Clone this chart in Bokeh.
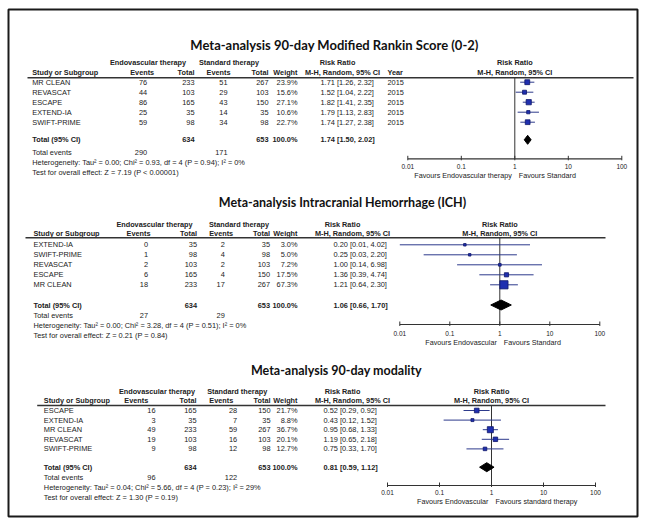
from bokeh.plotting import figure
from bokeh.models import Range1d, LogScale
from bokeh.core.properties import value
from bokeh.embed import file_html
from bokeh.resources import INLINE

# ---------------- DATA ----------------
TICKS = [0.01, 0.1, 1, 10, 100]
TICK_LABELS = ["0.01", "0.1", "1", "10", "100"]

P1_TITLE = "Meta-analysis 90-day Modified Rankin Score (0-2)"
P1_STUDIES = ["MR CLEAN", "REVASCAT", "ESCAPE", "EXTEND-IA", "SWIFT-PRIME"]
P1_E_EVENTS = [76, 44, 86, 25, 59]
P1_E_TOTAL = [233, 103, 165, 35, 98]
P1_S_EVENTS = [51, 29, 43, 14, 34]
P1_S_TOTAL = [267, 103, 150, 35, 98]
P1_WEIGHT = [23.9, 15.6, 27.1, 10.6, 22.7]
P1_RR = [1.71, 1.52, 1.82, 1.79, 1.74]
P1_LO = [1.26, 1.04, 1.41, 1.13, 1.27]
P1_HI = [2.32, 2.22, 2.35, 2.83, 2.38]
P1_YEAR = [2015, 2015, 2015, 2015, 2015]
P1_TOTAL = [634, 653]
P1_TOTAL_RR = [1.74, 1.50, 2.02]
P1_EVENTS = [290, 171]
P1_HET = "Heterogeneity: Tau\u00b2 = 0.00; Chi\u00b2 = 0.93, df = 4 (P = 0.94); I\u00b2 = 0%"
P1_TEST = "Test for overall effect: Z = 7.19 (P < 0.00001)"
P1_FAV = ["Favours Endovascular therapy", "Favours Standard"]

P2_TITLE = "Meta-analysis Intracranial Hemorrhage (ICH)"
P2_STUDIES = ["EXTEND-IA", "SWIFT-PRIME", "REVASCAT", "ESCAPE", "MR CLEAN"]
P2_E_EVENTS = [0, 1, 2, 6, 18]
P2_E_TOTAL = [35, 98, 103, 165, 233]
P2_S_EVENTS = [2, 4, 2, 4, 17]
P2_S_TOTAL = [35, 98, 103, 150, 267]
P2_WEIGHT = [3.0, 5.0, 7.2, 17.5, 67.3]
P2_RR = [0.20, 0.25, 1.00, 1.36, 1.21]
P2_LO = [0.01, 0.03, 0.14, 0.39, 0.64]
P2_HI = [4.02, 2.20, 6.98, 4.74, 2.30]
P2_TOTAL = [634, 653]
P2_TOTAL_RR = [1.06, 0.66, 1.70]
P2_EVENTS = [27, 29]
P2_HET = "Heterogeneity: Tau\u00b2 = 0.00; Chi\u00b2 = 3.28, df = 4 (P = 0.51); I\u00b2 = 0%"
P2_TEST = "Test for overall effect: Z = 0.21 (P = 0.84)"
P2_FAV = ["Favours Endovascular", "Favours Standard"]

P3_TITLE = "Meta-analysis 90-day modality"
P3_STUDIES = ["ESCAPE", "EXTEND-IA", "MR CLEAN", "REVASCAT", "SWIFT-PRIME"]
P3_E_EVENTS = [16, 3, 49, 19, 9]
P3_E_TOTAL = [165, 35, 233, 103, 98]
P3_S_EVENTS = [28, 7, 59, 16, 12]
P3_S_TOTAL = [150, 35, 267, 103, 98]
P3_WEIGHT = [21.7, 8.8, 36.7, 20.1, 12.7]
P3_RR = [0.52, 0.43, 0.95, 1.19, 0.75]
P3_LO = [0.29, 0.12, 0.68, 0.65, 0.33]
P3_HI = [0.92, 1.52, 1.33, 2.18, 1.70]
P3_TOTAL = [634, 653]
P3_TOTAL_RR = [0.81, 0.59, 1.12]
P3_EVENTS = [96, 122]
P3_HET = "Heterogeneity: Tau\u00b2 = 0.04; Chi\u00b2 = 5.66, df = 4 (P = 0.23); I\u00b2 = 29%"
P3_TEST = "Test for overall effect: Z = 1.30 (P = 0.19)"
P3_FAV = ["Favours Endovascular", "Favours standard therapy"]

# ---------------- FIGURE ----------------
X0, X1, Y0, Y1 = 0, 645, 0, 523
p = figure(width=X1 - X0, height=Y1 - Y0, output_backend="svg", toolbar_location=None,
           x_range=Range1d(X0, X1), y_range=Range1d(Y1, Y0),
           x_axis_location=None, y_axis_location=None, min_border=0)
p.grid.grid_line_color = None
p.outline_line_color = None
p.background_fill_color = "white"
p.border_fill_color = "white"

# outer frame
p.quad(left=[8], right=[637], top=[9], bottom=[516], fill_color=None,
       line_color="#1a1a1a", line_width=2)

TXT = "#222222"
LINE = "#333333"
SANS = value("Liberation Sans")
TITLE_FONT = value("Lato")
FS = 7.4   # body text size
HS = 7.3   # header text size


def txt(x, y, s, size=FS, align="left", bold=False, font=SANS, rng="default", color=TXT, xo=0):
    if not isinstance(x, list):
        x, y, s = [x], [y], [s]
    p.text(x=x, y=y, text=s, text_font=font, text_font_size=f"{size}px",
           text_align=align, text_baseline="middle", text_color=color,
           text_font_style="bold" if bold else "normal", x_range_name=rng, x_offset=xo)


def panel(name, title, studies, ee, et, se, st, w, rr, lo, hi, tot, trr, evs, het, test, fav, L, year=None):
    c, d = L["c"], L["d"]
    p.extra_x_ranges[name] = Range1d(10 ** ((X0 - c) / d), 10 ** ((X1 - c) / d))
    p.extra_x_scales[name] = LogScale()
    # title
    txt(L["title_x"], L["title_y"], title, size=L["title_size"], align="center", bold=True,
        font=TITLE_FONT, color="#111111")
    # group headers
    gy, hy = L["group_y"], L["head_y"]
    txt(L["eg"], gy, "Endovascular therapy", bold=True, align="center", size=HS)
    txt(L["sg"], gy, "Standard therapy", bold=True, align="center", size=HS)
    txt(L["rr_hc"], gy, "Risk Ratio", bold=True, align="center", size=HS)
    txt(L["study_x"], hy, "Study or Subgroup", bold=True, size=HS)
    txt(L["ee_h"], hy, "Events", bold=True, align="center", size=HS)
    txt(L["et"], hy, "Total", bold=True, align="right", size=HS)
    txt(L["se_h"], hy, "Events", bold=True, align="center", size=HS)
    txt(L["st"], hy, "Total", bold=True, align="right", size=HS)
    txt(L["w"], hy, "Weight", bold=True, align="right", size=HS)
    txt(L["mh_c"], hy, "M-H, Random, 95% CI", bold=True, align="center", size=HS)
    if year is not None:
        txt(L["year_x"], hy, "Year", bold=True, size=HS)
    txt(1, gy, "Risk Ratio", bold=True, align="center", size=HS, rng=name)
    txt(1, hy, "M-H, Random, 95% CI", bold=True, align="center", size=HS, rng=name)
    # header rule
    p.segment(x0=[L["rule_x0"]], x1=[L["rule_x1"]], y0=[L["rule_y"]], y1=[L["rule_y"]],
              line_color=LINE, line_width=1.6)
    # rows
    ys = [L["row0"] + i * L["step"] for i in range(len(studies))]
    n = len(ys)
    txt([L["study_x"]] * n, ys, list(studies))
    txt([L["ee"]] * n, ys, [str(v) for v in ee], align="right")
    txt([L["et"]] * n, ys, [str(v) for v in et], align="right")
    txt([L["se"]] * n, ys, [str(v) for v in se], align="right")
    txt([L["st"]] * n, ys, [str(v) for v in st], align="right")
    txt([L["w"]] * n, ys, [f"{v:.1f}%" for v in w], align="right")
    txt([L["ci_x"]] * n, ys, [f"{a:.2f} [{b:.2f}, {e:.2f}]" for a, b, e in zip(rr, lo, hi)])
    if year is not None:
        txt([L["year_x"]] * n, ys, [str(v) for v in year])
    # totals
    ty = L["total_y"]
    txt(L["study_x"], ty, "Total (95% CI)", bold=True)
    txt(L["et"], ty, str(tot[0]), bold=True, align="right")
    txt(L["st"], ty, str(tot[1]), bold=True, align="right")
    txt(L["w"], ty, "100.0%", bold=True, align="right")
    txt(L["ci_x"], ty, f"{trr[0]:.2f} [{trr[1]:.2f}, {trr[2]:.2f}]", bold=True)
    txt(L["study_x"], L["ev_y"], "Total events")
    txt(L["ee"], L["ev_y"], str(evs[0]), align="right")
    txt(L["se"], L["ev_y"], str(evs[1]), align="right")
    txt(L["study_x"], L["ev_y"] + L["fstep"], het)
    txt(L["study_x"], L["ev_y"] + 2 * L["fstep"], test)
    # forest plot
    ay = L["axis_y"]
    p.segment(x0=[1], x1=[1], y0=[L["rule_y"]], y1=[ay], x_range_name=name, line_color=LINE, line_width=1)
    p.segment(x0=lo, x1=hi, y0=ys, y1=ys, x_range_name=name, line_color="#2d3a8c", line_width=1)
    p.scatter(x=rr, y=ys, size=[max(2.5, v ** 0.5) for v in w], marker="square",
              x_range_name=name, fill_color="#1f2fb0", line_color="#10186a", line_width=0.8)
    hh = L["dh"]
    p.patch(x=[trr[1], trr[0], trr[2], trr[0]], y=[ty, ty - hh, ty, ty + hh],
            x_range_name=name, fill_color="black", line_color="black")
    # axis
    p.segment(x0=[TICKS[0]], x1=[TICKS[-1]], y0=[ay], y1=[ay], x_range_name=name,
              line_color=LINE, line_width=1.2)
    p.segment(x0=TICKS, x1=TICKS, y0=[ay - 3] * 5, y1=[ay + 1.5] * 5, x_range_name=name,
              line_color=LINE, line_width=1)
    txt(TICKS, [L["lab_y"]] * 5, TICK_LABELS, size=6.5, align="center", rng=name)
    txt(1, L["fav_y"], fav[0], size=7.2, align="right", rng=name, xo=-3)
    txt(1, L["fav_y"], fav[1], size=7.2, align="left", rng=name, xo=4)


L1 = dict(c=514.3, d=53.5, title_x=334, title_y=44, title_size=13,
          group_y=61.5, head_y=71.5, eg=147.5, sg=228.5, rr_hc=337, study_x=31.7,
          ee_h=141.7, et=194, se_h=218, st=268, w=297, mh_c=342, year_x=387,
          rule_x0=27, rule_x1=633, rule_y=77.3, row0=81.7, step=10, ee=146.7, se=227,
          ci_x=320, total_y=139.3, ev_y=151.5, fstep=10, axis_y=158.3, lab_y=165.7, fav_y=175, dh=4.5)
L2 = dict(c=499.3, d=50, title_x=342, title_y=202, title_size=12.5,
          group_y=224, head_y=233.3, eg=154, sg=238.5, rr_hc=342, study_x=33,
          ee_h=138, et=196.5, se_h=220.7, st=269.5, w=297, mh_c=352, year_x=0,
          rule_x0=25, rule_x1=605, rule_y=237.3, row0=244.3, step=10, ee=147.5, se=224.3,
          ci_x=333, total_y=304.5, ev_y=315, fstep=10, axis_y=324, lab_y=333, fav_y=342, dh=5)
L3 = dict(c=491, d=52, title_x=336, title_y=369.5, title_size=12.5,
          group_y=390.7, head_y=400, eg=156.5, sg=236.7, rr_hc=342, study_x=43.3,
          ee_h=135.8, et=196, se_h=220.8, st=270, w=297, mh_c=352, year_x=0,
          rule_x0=36.7, rule_x1=605, rule_y=405, row0=410, step=9.6, ee=155, se=236.7,
          ci_x=323, total_y=466.7, ev_y=476.7, fstep=10.3, axis_y=485, lab_y=492.3, fav_y=501, dh=4.5)

panel("fp1", P1_TITLE, P1_STUDIES, P1_E_EVENTS, P1_E_TOTAL, P1_S_EVENTS, P1_S_TOTAL, P1_WEIGHT,
      P1_RR, P1_LO, P1_HI, P1_TOTAL, P1_TOTAL_RR, P1_EVENTS, P1_HET, P1_TEST, P1_FAV, L1, year=P1_YEAR)
panel("fp2", P2_TITLE, P2_STUDIES, P2_E_EVENTS, P2_E_TOTAL, P2_S_EVENTS, P2_S_TOTAL, P2_WEIGHT,
      P2_RR, P2_LO, P2_HI, P2_TOTAL, P2_TOTAL_RR, P2_EVENTS, P2_HET, P2_TEST, P2_FAV, L2)
panel("fp3", P3_TITLE, P3_STUDIES, P3_E_EVENTS, P3_E_TOTAL, P3_S_EVENTS, P3_S_TOTAL, P3_WEIGHT,
      P3_RR, P3_LO, P3_HI, P3_TOTAL, P3_TOTAL_RR, P3_EVENTS, P3_HET, P3_TEST, P3_FAV, L3)

open("out.html", "w").write(file_html(p, INLINE))
